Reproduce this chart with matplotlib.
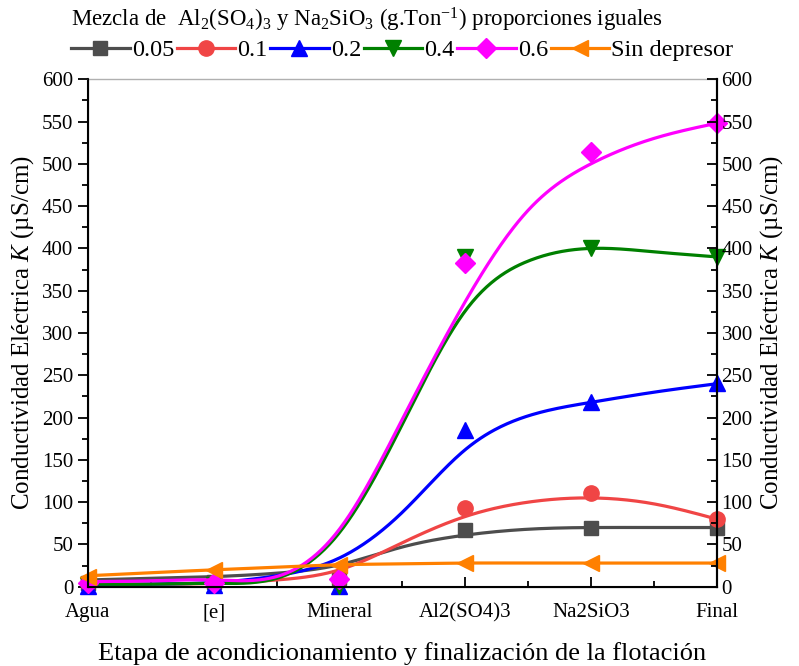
import numpy as np
import matplotlib
matplotlib.use("Agg")
import matplotlib.pyplot as plt

plt.rcParams['font.family'] = ['Liberation Serif', 'DejaVu Serif']
plt.rcParams['mathtext.fontset'] = 'custom'
plt.rcParams['mathtext.rm'] = 'Liberation Serif'
plt.rcParams['mathtext.it'] = 'Liberation Serif:italic'

# categories on x
etapas = ['Agua', '[e]', 'Mineral', 'Al2(SO4)3', 'Na2SiO3', 'Final']

# measured points
y_005 = [5, 6, 10, 67, 70, 70]
y_01 = [4, 5, 9, 93, 111, 80]
y_02 = [1, 2, 1, 185, 219, 241]
y_04 = [2, 2, 1, 390, 401, 390]
y_06 = [4, 4, 9, 383, 514, 548]
y_sin = [12, 20, 26, 28, 28, 28]

# smooth fit curves read at half steps (0, 0.5, ... 5)
fit_x = [0, 0.5, 1, 1.5, 2, 2.5, 3, 3.5, 4, 4.5, 5]
fit_005 = [8, 10, 12, 16, 26, 47, 61, 68, 70, 70, 70]
fit_01 = [3, 3, 4, 8, 20, 52, 83, 100, 105, 98, 80]
fit_02 = [2, 3, 5, 13, 34, 88, 162, 202, 218, 230, 240]
fit_04 = [3, 3, 4, 10, 64, 192, 326, 385, 400, 396, 390]
fit_06 = [6, 7, 8, 12, 68, 198, 337, 445, 500, 530, 548]
fit_sin = [13, 16.5, 20, 23, 26, 27, 28, 28, 28, 28, 28]

labels = ['0.05', '0.1', '0.2', '0.4', '0.6', 'Sin depresor']
colors = ['#4d4d4d', '#f04545', '#0000ff', '#008000', '#ff00ff', '#ff8000']
markers = ['s', 'o', '^', 'v', 'D', '<']
msizes = [10, 11, 12, 12, 10, 12]


def spline(x, y, xs):
    # natural cubic spline
    x = np.asarray(x, float)
    y = np.asarray(y, float)
    n = len(x)
    h = np.diff(x)
    A = np.zeros((n, n))
    b = np.zeros(n)
    A[0, 0] = 1
    A[-1, -1] = 1
    for i in range(1, n - 1):
        A[i, i - 1] = h[i - 1]
        A[i, i] = 2 * (h[i - 1] + h[i])
        A[i, i + 1] = h[i]
        b[i] = 6 * ((y[i + 1] - y[i]) / h[i] - (y[i] - y[i - 1]) / h[i - 1])
    M = np.linalg.solve(A, b)
    idx = np.clip(np.searchsorted(x, xs) - 1, 0, n - 2)
    hi = h[idx]
    a = x[idx + 1] - xs
    c = xs - x[idx]
    return (M[idx] * a**3 / (6 * hi) + M[idx + 1] * c**3 / (6 * hi)
            + (y[idx] / hi - M[idx] * hi / 6) * a
            + (y[idx + 1] / hi - M[idx + 1] * hi / 6) * c)


fig = plt.figure(figsize=(7.99, 6.66), dpi=100)
ax = fig.add_axes([0.110, 0.119, 0.787, 0.762])

xpos = np.arange(len(etapas))
xs = np.linspace(0, 5, 400)
series = [y_005, y_01, y_02, y_04, y_06, y_sin]
fits = [fit_005, fit_01, fit_02, fit_04, fit_06, fit_sin]

handles = []
for ys, fy, c, mk, ms in zip(series, fits, colors, markers, msizes):
    ln, = ax.plot(xs, np.clip(spline(fit_x, fy, xs), 1, None), color=c, lw=2.3,
                  clip_on=False)
    pts, = ax.plot(xpos, ys, ls='none', marker=mk, ms=ms, color=c, clip_on=False)
    handles.append((ln, pts))

ax.set_xlim(0, 5)
ax.set_ylim(0, 600)
ax.set_xticks(xpos)
ax.set_xticklabels(etapas)
ax.set_xticks(np.arange(0.5, 5, 1), minor=True)
ax.set_yticks(np.arange(0, 601, 50))
ax.set_yticks(np.arange(25, 600, 50), minor=True)
ax.tick_params(axis='x', which='both', direction='in', labelsize=15, pad=12)
ax.tick_params(axis='x', which='major', length=7, width=1.3)
ax.tick_params(axis='x', which='minor', length=4, width=1.3)
ax.tick_params(axis='y', which='both', direction='out', labelsize=15)
ax.tick_params(axis='y', which='major', length=7, width=1.3)
ax.tick_params(axis='y', which='minor', length=4, width=1.3)

ylab = 'Conductividad Eléctrica $\\it{K}$ (µS/cm)'
ax.set_ylabel(ylab, fontsize=18, labelpad=4)
ax.set_xlabel('Etapa de acondicionamiento y finalización de la flotación',
              fontsize=19, labelpad=14)

for s in ['left', 'bottom', 'right']:
    ax.spines[s].set_linewidth(1.5)
ax.spines['top'].set_color('#b0b0b0')
ax.spines['top'].set_linewidth(1.0)

ax2 = ax.twinx()
ax2.set_ylim(0, 600)
ax2.set_yticks(np.arange(0, 601, 50))
ax2.set_yticks(np.arange(25, 600, 50), minor=True)
ax2.tick_params(axis='y', which='both', direction='in', labelsize=15)
ax2.tick_params(axis='y', which='major', length=7, width=1.3)
ax2.tick_params(axis='y', which='minor', length=4, width=1.3)
ax2.set_ylabel(ylab, fontsize=18, labelpad=4)
ax2.spines['right'].set_linewidth(1.5)
ax2.spines['top'].set_visible(False)

leg = ax.legend(handles, labels, ncol=6, loc='lower center',
                bbox_to_anchor=(0.5, 1.012), frameon=False, fontsize=17.5,
                handlelength=2.4, handletextpad=0.1, columnspacing=0.1,
                labelspacing=0.2,
                title='Mezcla de  Al$_2$(SO$_4$)$_3$ y Na$_2$SiO$_3$ (g.Ton$^{-1}$) proporciones iguales',
                title_fontsize=16.5, alignment='left', borderaxespad=0.1)

fig.savefig('out.png', dpi=100)
